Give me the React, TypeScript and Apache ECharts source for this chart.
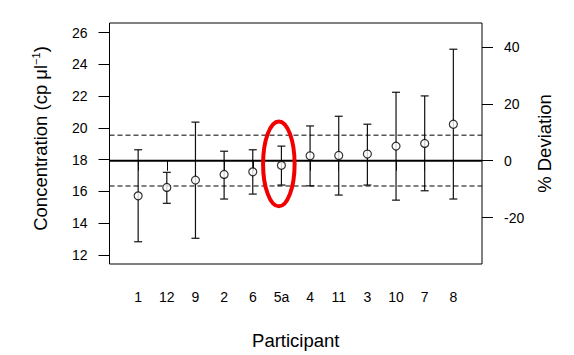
import React, { useEffect, useRef } from "react";
import * as echarts from "echarts";

const categories = ["1", "12", "9", "2", "6", "5a", "4", "11", "3", "10", "7", "8"];
const concentration = [15.72, 16.25, 16.71, 17.07, 17.23, 17.64, 18.24, 18.26, 18.35, 18.85, 19.02, 20.23];
const upperBar = [18.62, 17.2, 20.36, 18.53, 18.62, 18.85, 20.12, 20.73, 20.23, 22.24, 22.01, 24.95];
const lowerBar = [12.83, 15.25, 13.05, 15.52, 15.83, 16.4, 16.35, 15.77, 16.4, 15.45, 16.04, 15.52];
const referenceValue = 17.93;
const upperLimit = 19.54;
const lowerLimit = 16.34;
const leftTicks = [12, 14, 16, 18, 20, 22, 24, 26];
const rightTicks = [-20, 0, 20, 40];
const yMin = 11.43;
const yMax = 26.6;
// highlight ellipse around participant 5a (data units)
const highlightCenter = [5.91, 17.73];
const highlightRadius = [0.55, 2.67];

const FONT = "Liberation Sans, Arial, sans-serif";

export default function App() {
  const ref = useRef<HTMLDivElement>(null);
  useEffect(() => {
    if (!ref.current) return;
    const chart = echarts.init(ref.current, undefined, { renderer: "svg" });
    const xPos = categories.map((_, i) => i + 1);
    const pct = (v: number) => (v / referenceValue - 1) * 100;
    const lineData = (v: number) => [[0, v], [categories.length + 1, v]];
    const labelStyle = { color: "#000", fontSize: 14, fontFamily: FONT };
    const tickStyle = { color: "#000", width: 1 };
    chart.setOption({
      animation: false,
      backgroundColor: "#fff",
      grid: { left: 109.5, right: 92, top: 23, bottom: 91, show: true, borderColor: "#000", borderWidth: 1 },
      xAxis: {
        type: "value",
        min: 0,
        max: categories.length + 1,
        splitLine: { show: false },
        axisLine: { show: false },
        axisTick: { show: true, length: 10, lineStyle: tickStyle, customValues: xPos },
        axisLabel: {
          ...labelStyle,
          margin: 26,
          customValues: xPos,
          formatter: (v: number) => categories[Math.round(v) - 1] ?? "",
        },
        name: "Participant",
        nameLocation: "middle",
        nameGap: 67,
        nameTextStyle: { color: "#000", fontSize: 18.5, fontFamily: FONT },
      },
      yAxis: [
        {
          type: "value",
          min: yMin,
          max: yMax,
          position: "left",
          splitLine: { show: false },
          axisLine: { show: false },
          axisTick: { show: true, length: 11, lineStyle: tickStyle, customValues: leftTicks },
          axisLabel: { ...labelStyle, margin: 22, customValues: leftTicks },
          name: "Concentration (cp μl{sup|−1})",
          nameLocation: "middle",
          nameRotate: 90,
          nameGap: 59,
          nameTextStyle: {
            color: "#000",
            fontSize: 18.5,
            fontFamily: FONT,
            padding: [0, 0, 0, 10],
            rich: { sup: { fontSize: 11, fontFamily: FONT, color: "#000", verticalAlign: "top", padding: [0, 0, 9, 0] } },
          },
        },
        {
          type: "value",
          min: pct(yMin),
          max: pct(yMax),
          position: "right",
          splitLine: { show: false },
          axisLine: { show: false },
          axisTick: { show: true, length: 11, lineStyle: tickStyle, customValues: rightTicks },
          axisLabel: { ...labelStyle, margin: 22, customValues: rightTicks },
          name: "% Deviation",
          nameLocation: "middle",
          nameRotate: 90,
          nameGap: 45,
          nameTextStyle: { color: "#000", fontSize: 18.5, fontFamily: FONT },
        },
      ],
      series: [
        {
          type: "line",
          data: lineData(referenceValue),
          symbol: "none",
          lineStyle: { color: "#000", width: 2 },
          silent: true,
        },
        {
          type: "line",
          data: lineData(upperLimit),
          symbol: "none",
          lineStyle: { color: "#000", width: 1, type: [5, 3] },
          silent: true,
        },
        {
          type: "line",
          data: lineData(lowerLimit),
          symbol: "none",
          lineStyle: { color: "#000", width: 1, type: [5, 3] },
          silent: true,
        },
        {
          type: "custom",
          data: xPos.map((x, i) => [x, lowerBar[i], upperBar[i]]),
          encode: { x: 0, y: [1, 2] },
          renderItem: (_params: any, api: any) => {
            const x = api.value(0);
            const pHi = api.coord([x, api.value(2)]);
            const pLo = api.coord([x, api.value(1)]);
            const hw = 4;
            const style = { stroke: "#111", lineWidth: 1.2 };
            return {
              type: "group",
              children: [
                { type: "line", shape: { x1: pHi[0], y1: pHi[1], x2: pLo[0], y2: pLo[1] }, style },
                { type: "line", shape: { x1: pHi[0] - hw, y1: pHi[1], x2: pHi[0] + hw, y2: pHi[1] }, style },
                { type: "line", shape: { x1: pLo[0] - hw, y1: pLo[1], x2: pLo[0] + hw, y2: pLo[1] }, style },
              ],
            };
          },
        },
        {
          type: "scatter",
          data: xPos.map((x, i) => [x, concentration[i]]),
          symbol: "circle",
          symbolSize: 8,
          itemStyle: { color: "#fff", borderColor: "#000", borderWidth: 1.2 },
          z: 5,
        },
      ],
    });
    const finder = { xAxisIndex: 0, yAxisIndex: 0 };
    const c = chart.convertToPixel(finder, highlightCenter) as number[];
    const e = chart.convertToPixel(finder, [
      highlightCenter[0] + highlightRadius[0],
      highlightCenter[1] + highlightRadius[1],
    ]) as number[];
    chart.setOption({
      graphic: [
        {
          type: "ellipse",
          shape: { cx: c[0], cy: c[1], rx: Math.abs(e[0] - c[0]), ry: Math.abs(c[1] - e[1]) },
          style: { fill: "none", stroke: "#f20000", lineWidth: 4 },
          z: 100,
        },
      ],
    });
    return () => chart.dispose();
  }, []);
  return <div ref={ref} style={{ position: "fixed", left: 0, top: 0, width: 574, height: 355 }} />;
}
